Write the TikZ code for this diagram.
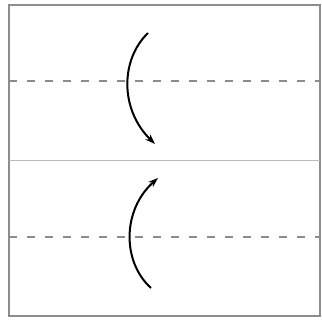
\documentclass[tikz,border=0pt]{standalone}
\usetikzlibrary{arrows.meta}
\begin{document}
\begin{tikzpicture}[x=1pt, y=-1pt,
    foldline/.style={gray!90, line width=1.3pt, dash pattern=on 8pt off 10pt},
    turnarrow/.style={black, line width=2pt, -{Stealth[length=10pt, width=7pt]}}]
    \useasboundingbox (0,0) rectangle (322,320);

    % Paper
    \draw[gray!90, line width=1.8pt] (9,5) rectangle (320,316);
    \draw[gray!55, line width=0.8pt] (9,160.5) -- (320,160.5);

    % Fold lines
    \draw[foldline] (9,81) -- (320,81);
    \draw[foldline] (9,237) -- (320,237);

    % Upper flap folds down
    \coordinate (upstart) at (148,33);
    \coordinate (upend) at (155,144);
    \draw[turnarrow] (upstart) .. controls (120,60) and (120,110) .. (upend);

    % Lower flap folds up
    \coordinate (lowstart) at (151,288);
    \coordinate (lowend) at (158,178);
    \draw[turnarrow] (lowstart) .. controls (122,262) and (122,210) .. (lowend);
\end{tikzpicture}
\end{document}
